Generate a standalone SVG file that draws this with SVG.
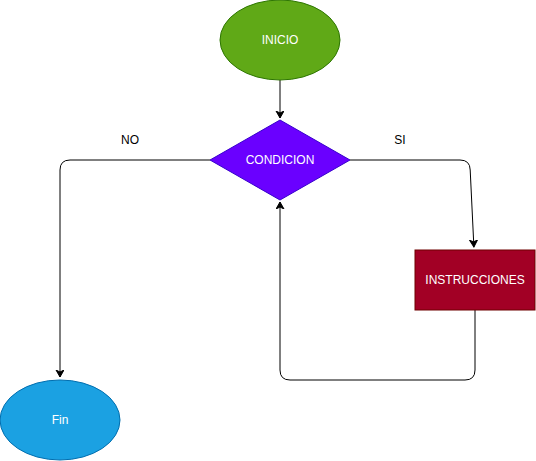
<svg xmlns="http://www.w3.org/2000/svg" width="536" height="461" viewBox="0 0 536 461">
<defs>
<marker id="arr" markerWidth="10" markerHeight="10" refX="7" refY="4" orient="auto" markerUnits="userSpaceOnUse">
<path d="M0,0 L7,4 L0,8 L2,4 Z" fill="#000" stroke="#000" stroke-width="1"/>
</marker>
</defs>
<style>
.lbl{font-family:"Liberation Sans",Arial,sans-serif;font-size:12px;text-anchor:middle;dominant-baseline:central}
.w{fill:#ffffff}
.k{fill:#000000}
.edge{fill:none;stroke:#000;stroke-width:1}
</style>
<rect width="536" height="461" fill="#ffffff"/>
<g id="connectors">
<path class="edge" d="M280,80 L280,118" marker-end="url(#arr)"/>
<path class="edge" d="M210,160 L70,160 Q60,160 60,170 L60,377" marker-end="url(#arr)"/>
<path class="edge" d="M350,160 L460,160 Q470,160 470.2,170 L473.9,247" marker-end="url(#arr)"/>
<path class="edge" d="M475,310 L475,370 Q475,380 465,380 L290,380 Q280,380 280,370 L280,202" marker-end="url(#arr)"/>
<text class="lbl k" x="130" y="140">NO</text>
<text class="lbl k" x="400" y="140">SI</text>
</g>
<g id="inicio">
<ellipse cx="280" cy="40" rx="60" ry="40" fill="#60a917" stroke="#2d7600"/>
<text class="lbl w" x="280" y="40">INICIO</text>
</g>
<g id="condicion">
<polygon points="280,120 350,160 280,200 210,160" fill="#6a00ff" stroke="#3700cc"/>
<text class="lbl w" x="280" y="160">CONDICION</text>
</g>
<g id="instrucciones">
<rect x="415" y="250" width="120" height="60" fill="#a20025" stroke="#6f0000"/>
<text class="lbl w" x="475" y="280">INSTRUCCIONES</text>
</g>
<g id="fin">
<ellipse cx="60" cy="420" rx="60" ry="40" fill="#1ba1e2" stroke="#006eaf"/>
<text class="lbl w" x="60" y="420">Fin</text>
</g>
</svg>
